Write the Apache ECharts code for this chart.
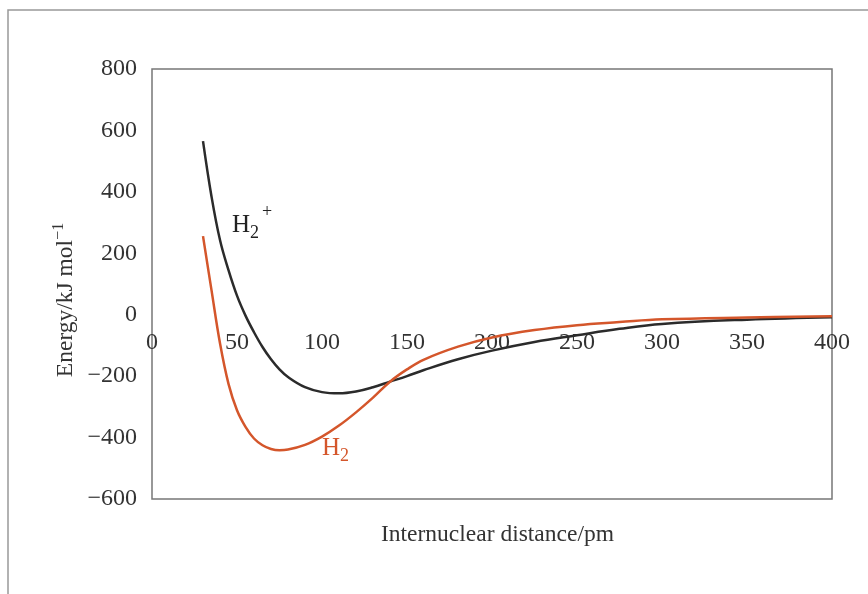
<!DOCTYPE html>
<html>
<head>
<meta charset="utf-8">
<script src="https://cdn.jsdelivr.net/npm/echarts@6/dist/echarts.min.js"></script>
<style>
html,body{margin:0;padding:0;background:#fff;}
#main{width:868px;height:594px;}
</style>
</head>
<body>
<div id="main"></div>
<script>
// Internuclear distance (pm)
var distances = [30,35,40,45,50,55,60,65,70,75,80,90,100,110,120,130,140,150,160,180,200,225,250,275,300,350,400];
// Energy (kJ/mol) of H2+
var h2PlusEnergy = [565,385,243,145,62,-3,-57,-105,-145,-178,-203,-236,-252,-256,-250,-236,-218,-200,-180,-145,-117,-89,-67,-46,-30,-16,-8];
// Energy (kJ/mol) of H2
var h2Energy = [256,80,-93,-225,-311,-365,-403,-425,-437,-441,-439,-424,-397,-361,-318,-270,-218,-178,-146,-104,-74,-50,-34,-24,-15,-9,-5];
var xTicks = [0,50,100,150,200,250,300,350,400];
var yTicks = [-600,-400,-200,0,200,400,600,800];

function pairs(xs, ys){ return xs.map(function(x,i){ return [x, ys[i]]; }); }

var serif = '"Liberation Serif","DejaVu Serif",serif';
var txt = '#333';
var gridTop = 69, gridBottom = 95, chartH = 594;
var yMin = -600, yMax = 800;
// distance in px from the bottom of the grid up to the y = 0 line
var zeroLift = (chartH - gridTop - gridBottom) * (0 - yMin) / (yMax - yMin);

var chart = echarts.init(document.getElementById('main'));
chart.setOption({
  backgroundColor:'#fff',
  animation:false,
  title:{
    text:'Internuclear distance/pm',
    left:376, top:518,
    textStyle:{fontFamily:serif,fontSize:23.5,fontWeight:'normal',color:txt}
  },
  grid:{left:152,right:36,top:gridTop,bottom:gridBottom,show:true,borderColor:'#777',borderWidth:1.5,backgroundColor:'transparent'},
  xAxis:{
    type:'value',min:0,max:400,interval:50,
    position:'bottom',offset:-zeroLift,
    axisLine:{show:false,onZero:false},
    axisTick:{show:false},
    splitLine:{show:false},
    axisLabel:{fontFamily:serif,fontSize:24,color:txt,margin:16,
      formatter:function(v){return xTicks.indexOf(v)>=0?String(v):'';}}
  },
  yAxis:{
    type:'value',min:yMin,max:yMax,interval:200,
    axisLine:{show:false,onZero:false},
    axisTick:{show:false},
    splitLine:{show:false},
    axisLabel:{fontFamily:serif,fontSize:24,color:txt,margin:15,
      formatter:function(v){return yTicks.indexOf(v)<0?'':(v<0?'\u2212'+Math.abs(v):String(v));}}
  },
  graphic:[
    {type:'polyline',shape:{points:[[8,594],[8,10],[868,10]]},style:{stroke:'#999',lineWidth:1.5,fill:null}},
    {type:'text',x:66,y:300,rotation:Math.PI/2,
      style:{text:'{m|Energy/kJ mol}{s|\u22121}',align:'center',verticalAlign:'middle',
        rich:{m:{fontFamily:serif,fontSize:23.5,fill:txt},
              s:{fontFamily:serif,fontSize:16,fill:txt,verticalAlign:'top',padding:[0,0,14,0]}}}}
  ],
  series:[
    {
      name:'H2+',type:'line',data:pairs(distances,h2PlusEnergy),
      smooth:0.4,showSymbol:false,symbol:'none',
      lineStyle:{color:'#2b2b2b',width:2.5},
      markPoint:{symbol:'circle',symbolSize:0,silent:true,
        data:[{coord:[47,290],
          label:{show:true,position:'right',distance:0,
            formatter:'{h|H}{sub|2}{sup|+}',
            rich:{h:{fontFamily:serif,fontSize:25,color:'#222'},
                  sub:{fontFamily:serif,fontSize:18,color:'#222',padding:[16,0,0,0]},
                  sup:{fontFamily:serif,fontSize:18,color:'#222',padding:[0,0,26,3]}}}}]}
    },
    {
      name:'H2',type:'line',data:pairs(distances,h2Energy),
      smooth:0.4,showSymbol:false,symbol:'none',
      lineStyle:{color:'#d4562b',width:2.5},
      markPoint:{symbol:'circle',symbolSize:0,silent:true,
        data:[{coord:[100,-436],
          label:{show:true,position:'right',distance:0,
            formatter:'{h|H}{sub|2}',
            rich:{h:{fontFamily:serif,fontSize:25,color:'#d4562b'},
                  sub:{fontFamily:serif,fontSize:18,color:'#d4562b',padding:[16,0,0,0]}}}}]}
    }
  ]
});
</script>
</body>
</html>
